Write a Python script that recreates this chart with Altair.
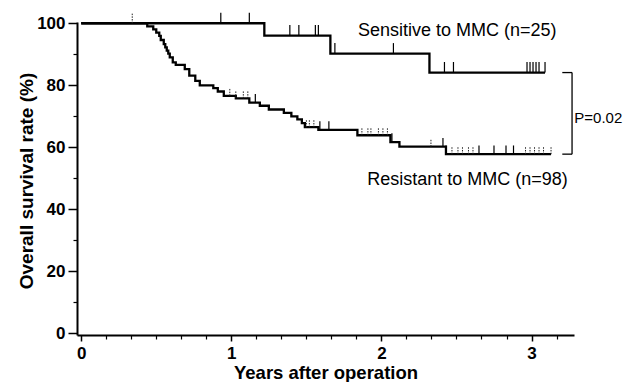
import altair as alt
import pandas as pd

# ---- data ----
sens_time = [0.0, 1.22, 1.66, 2.32]
sens_surv = [100.0, 96.0, 90.2, 84.1]
sens_end = 3.09
sens_cens_solid = [0.93, 1.12, 1.39, 1.45, 1.56, 1.58, 1.69, 2.08, 2.42, 2.48,
                   2.97, 2.99, 3.01, 3.03, 3.05, 3.09]
sens_cens_dotted = [0.34]

res_time = [0.0, 0.44, 0.48, 0.50, 0.52, 0.53, 0.55, 0.56, 0.57, 0.58, 0.59,
            0.61, 0.63, 0.69, 0.72, 0.76, 0.79, 0.88, 0.91, 0.95, 1.03, 1.12,
            1.19, 1.25, 1.35, 1.40, 1.44, 1.47, 1.49, 1.58, 1.84, 2.06, 2.12, 2.43]
res_surv = [100.0, 99.0, 98.0, 97.0, 95.9, 94.6, 93.3, 92.2, 91.2, 90.2, 89.0,
            87.4, 86.6, 85.2, 83.1, 81.4, 80.0, 79.1, 78.0, 76.6, 75.8, 74.4,
            73.4, 72.2, 71.1, 70.0, 69.0, 67.8, 66.5, 65.6, 63.9, 61.7, 60.2, 57.8]
res_end = 3.13
res_cens_solid = [1.16, 1.59, 1.65, 2.07, 2.41, 2.43, 2.65, 2.75, 2.83, 2.88]
res_cens_dotted = [0.99, 1.03, 1.08, 1.11, 1.50, 1.52, 1.55, 1.87, 1.91, 1.93,
                   1.98, 2.01, 2.04, 2.33, 2.47, 2.51, 2.54, 2.58, 2.61,
                   2.96, 2.99, 3.02, 3.05, 3.08, 3.13]

labels = ["Sensitive to MMC (n=25)", "Resistant to MMC (n=98)"]
p_label = "P=0.02"
y_ticks = [0, 20, 40, 60, 80, 100]
y_minor = [10, 30, 50, 70, 90]
x_ticks = [0, 1, 2, 3]
x_minor = [i / 6 for i in range(1, 20) if i % 6 != 0]

# ---- build tables ----
def surv_at(times, survs, t):
    s = survs[0]
    for tt, ss in zip(times, survs):
        if tt <= t:
            s = ss
    return s

rows = []
for g, ts, ss, end in [("sens", sens_time, sens_surv, sens_end),
                       ("res", res_time, res_surv, res_end)]:
    for t, s in zip(ts, ss):
        rows.append({"g": g, "t": t, "s": s})
    rows.append({"g": g, "t": end, "s": ss[-1]})
lines = pd.DataFrame(rows)

def cens_df(times, ts, ss, h):
    return pd.DataFrame([{"t": t, "s": surv_at(ts, ss, t),
                          "s2": surv_at(ts, ss, t) + h} for t in times])

solid = pd.concat([cens_df(sens_cens_solid, sens_time, sens_surv, 3.4),
                   cens_df(res_cens_solid, res_time, res_surv, 2.8)])
dotted = pd.concat([cens_df(sens_cens_dotted, sens_time, sens_surv, 3.4),
                    cens_df(res_cens_dotted, res_time, res_surv, 2.6)])

top = sens_surv[-1]
bot = res_surv[-1]
XB = 3.27
bracket = pd.DataFrame([
    {"x": XB - 0.065, "x2": XB, "y": top, "y2": top},
    {"x": XB - 0.065, "x2": XB, "y": bot, "y2": bot},
    {"x": XB, "x2": XB, "y": top, "y2": bot},
])
texts = pd.DataFrame([
    {"label": labels[0], "x": 2.505, "y": 97.4},
    {"label": labels[1], "x": 2.573, "y": 49.4},
])
ptext = pd.DataFrame([{"label": p_label, "x": 3.285, "y": 69.3}])

FONT = "Liberation Sans"
xscale = alt.Scale(domain=[-0.028, 3.283], nice=False, zero=False)
yscale = alt.Scale(domain=[-0.5, 100.4], nice=False, zero=False)

W, H = 497, 313

x_main = alt.Axis(values=x_ticks, format="d", orient="bottom", tickSize=6,
                  tickWidth=1.5, tickColor="black", domainWidth=2,
                  domainColor="black", labelFontSize=17, labelFont=FONT,
                  labelFontWeight="bold", labelPadding=4, labelColor="black",
                  title="Years after operation", titleFont=FONT,
                  titleFontSize=18.5, titleFontWeight="bold", titleColor="black",
                  titleX=W / 2, titleY=37, titleBaseline="middle",
                  titleAlign="center", grid=False)
y_main = alt.Axis(values=y_ticks, format="d", orient="left", tickSize=9,
                  tickWidth=1.5, tickColor="black", domainWidth=2,
                  domainColor="black", labelFontSize=17, labelFont=FONT,
                  labelFontWeight="bold", labelPadding=3, labelColor="black",
                  title="Overall survival rate (%)", titleFont=FONT,
                  titleFontSize=19, titleFontWeight="bold", titleColor="black",
                  titleX=-51, titleY=H / 2 + 2, titleAngle=-90,
                  titleBaseline="middle", titleAlign="center", grid=False)
x_min_ax = alt.Axis(values=x_minor, orient="bottom", tickSize=4, tickWidth=1.2,
                    tickColor="black", labels=False, domain=False, title="",
                    grid=False)
y_min_ax = alt.Axis(values=y_minor, orient="left", tickSize=4, tickWidth=1.2,
                    tickColor="black", labels=False, domain=False, title="",
                    grid=False)

line_layer = alt.Chart(lines).mark_line(
    interpolate="step-after", color="black", strokeWidth=2.3
).encode(
    x=alt.X("t:Q", scale=xscale, axis=x_main),
    y=alt.Y("s:Q", scale=yscale, axis=y_main),
    detail="g:N",
)
minor_layer = alt.Chart(lines).mark_point(opacity=0).encode(
    x=alt.X("t:Q", scale=xscale, axis=x_min_ax),
    y=alt.Y("s:Q", scale=yscale, axis=y_min_ax),
)
solid_layer = alt.Chart(solid).mark_rule(color="black", strokeWidth=1.2).encode(
    x=alt.X("t:Q", scale=xscale, axis=None),
    y=alt.Y("s:Q", scale=yscale, axis=None),
    y2="s2:Q",
)
dotted_layer = alt.Chart(dotted).mark_rule(
    color="#222", strokeWidth=1, strokeDash=[1.5, 1.2]
).encode(
    x=alt.X("t:Q", scale=xscale, axis=None),
    y=alt.Y("s:Q", scale=yscale, axis=None),
    y2="s2:Q",
)
bracket_layer = alt.Chart(bracket).mark_rule(color="black", strokeWidth=1.3).encode(
    x=alt.X("x:Q", scale=xscale, axis=None),
    x2="x2:Q",
    y=alt.Y("y:Q", scale=yscale, axis=None),
    y2="y2:Q",
)
text_layer = alt.Chart(texts).mark_text(
    font=FONT, fontSize=18, color="black", align="center", baseline="middle"
).encode(
    x=alt.X("x:Q", scale=xscale, axis=None),
    y=alt.Y("y:Q", scale=yscale, axis=None),
    text="label:N",
)
p_layer = alt.Chart(ptext).mark_text(
    font=FONT, fontSize=15, color="black", align="left", baseline="middle"
).encode(
    x=alt.X("x:Q", scale=xscale, axis=None),
    y=alt.Y("y:Q", scale=yscale, axis=None),
    text="label:N",
)

chart = alt.layer(
    minor_layer, line_layer, solid_layer, dotted_layer, bracket_layer,
    text_layer, p_layer
).resolve_axis(x="independent", y="independent").properties(
    width=W, height=H,
    padding={"left": 69, "top": 14, "right": 49, "bottom": 47},
    autosize=alt.AutoSizeParams(type="none"),
    background="white",
).configure_view(stroke=None)

chart.save("out.html", embed_options={"renderer": "svg", "actions": False})
